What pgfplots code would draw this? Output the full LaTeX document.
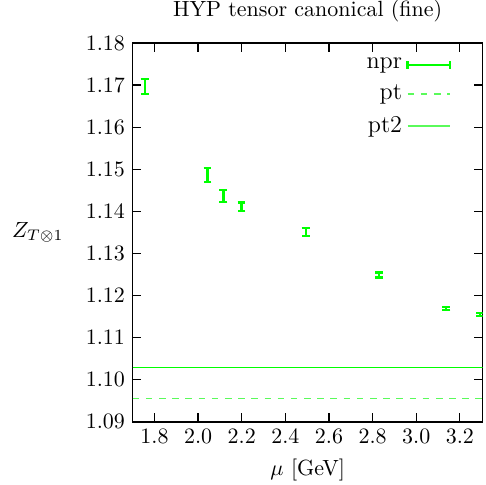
\documentclass[border=0pt]{standalone}
\usepackage{pgfplots}
\pgfplotsset{compat=1.18}
\definecolor{nprgreen}{RGB}{0,255,0}
\definecolor{ptgreen}{RGB}{90,250,90}
\begin{document}
\begin{tikzpicture}
\begin{axis}[
  width=159.3pt, height=172.4pt, scale only axis,
  xmin=1.7, xmax=3.305, ymin=1.09, ymax=1.18,
  xtick={1.8,2.0,...,3.2}, ytick={1.09,1.10,...,1.18},
  xticklabel style={/pgf/number format/.cd, fixed, fixed zerofill, precision=1},
  yticklabel style={/pgf/number format/.cd, fixed, fixed zerofill, precision=2},
  tick align=inside, major tick length=4pt,
  axis line style={line width=0.7pt}, every tick/.style={line width=0.6pt, black},
  title={HYP tensor canonical (fine)},
  xlabel={$\mu$ [GeV]},
  ylabel={$Z_{T\otimes 1}$},
  ylabel style={rotate=-90, at={(rel axis cs:0,0.5)}, anchor=east, xshift=-28pt},
  legend style={draw=none, fill=none, at={(rel axis cs:0.93,0.985)}, anchor=north east,
    row sep=2pt, font=\fontsize{11}{13}\selectfont},
  legend cell align=right,
  legend plot pos=right,
]
\coordinate (bl) at (rel axis cs:0,0);
\coordinate (tr) at (rel axis cs:1,1);
\addplot[draw=none, mark=none,
  legend image code/.code={
    \draw[line width=1pt, nprgreen] (0cm,0cm) -- (0.68cm,0cm);
    \draw[line width=1pt, nprgreen] (0cm,-1.8pt) -- (0cm,1.8pt);
    \draw[line width=1pt, nprgreen] (0.68cm,-1.8pt) -- (0.68cm,1.8pt);
  },
  error bars/.cd, y dir=both, y explicit,
  error bar style={draw=nprgreen, solid, line width=1pt},
  error mark options={rotate=90, mark size=1.8pt, line width=1pt, draw=nprgreen}]
  coordinates {
  (1.755,1.1696) +- (0,0.0018)
  (2.043,1.1486) +- (0,0.0017)
  (2.116,1.1437) +- (0,0.0014)
  (2.199,1.1411) +- (0,0.0010)
  (2.493,1.1351) +- (0,0.0010)
  (2.830,1.1249) +- (0,0.0006)
  (3.138,1.1169) +- (0,0.0004)
  (3.294,1.1155) +- (0,0.0004)
  };
\addlegendentry{npr}
\addplot[draw=ptgreen, dashed, line width=0.6pt, mark=none,
  legend image code/.code={\draw[ptgreen, dashed, line width=0.8pt] (0cm,0cm) -- (0.68cm,0cm);}]
  coordinates {(1.7,1.0955) (3.305,1.0955)};
\addlegendentry{pt}
\addplot[draw=nprgreen, solid, line width=0.55pt, mark=none,
  legend image code/.code={\draw[ptgreen, line width=0.8pt] (0cm,0cm) -- (0.68cm,0cm);}]
  coordinates {(1.7,1.1030) (3.305,1.1030)};
\addlegendentry{pt2}
\end{axis}
\pgfresetboundingbox
\path[use as bounding box] ([shift={(-60.4pt,-28.7pt)}]bl) rectangle ([shift={(1.5pt,19.6pt)}]tr);
\end{tikzpicture}
\end{document}
